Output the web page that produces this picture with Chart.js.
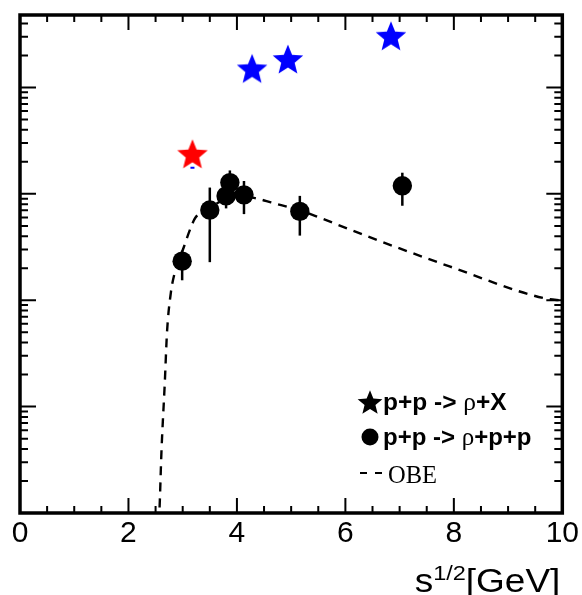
<!DOCTYPE html>
<html lang="en">
<head>
  <meta charset="UTF-8">
  <title>rho production in p+p collisions</title>
  <script src="https://cdn.jsdelivr.net/npm/chart.js"></script>
  <style>
    body { margin: 0; background: #fff; }
  </style>
</head>
<body>
<canvas id="rhoChart" width="582" height="595"></canvas>

<script>
  // p+p -> rho+p+p (exclusive), with error bar ends
  const exclX  = [2.99, 3.50, 3.80, 3.87, 4.13, 5.16, 7.05];
  const exclY  = [0.233, 0.704, 0.957, 1.276, 0.979, 0.684, 1.19];
  const exclLo = [0.154, 0.228, 0.73, 1.0, 0.645, 0.405, 0.773];
  const exclHi = [0.293, 1.146, 1.2, 1.66, 1.32, 0.957, 1.58];

  // p+p -> rho+X (inclusive)
  const inclX = [3.18, 4.28, 4.94, 6.84];
  const inclY = [2.38, 15.1, 18.5, 30.6];
  const inclColors = ['#ff0000', '#0000ff', '#0000ff', '#0000ff'];

  // small blue point under the red star
  const markX = [3.18];
  const markY = [1.76];

  // OBE model
  const obeX = [2.555, 2.57, 2.61, 2.67, 2.71, 2.78, 2.85, 3.02, 3.14, 3.23, 3.5, 3.8, 4.05, 4.39, 4.63, 5.16, 5.54, 6.58, 7.92, 9.69, 10];
  const obeY = [0.0008, 0.00102, 0.00396, 0.0168, 0.0492, 0.116, 0.179, 0.315, 0.468, 0.593, 0.74, 0.9, 0.96, 0.898, 0.83, 0.70, 0.593, 0.369, 0.208, 0.1037, 0.0996];

  const xTicks = [0, 2, 4, 6, 8, 10];
  const yMin = 0.001;
  const yMax = 48;

  const SANS = '"Liberation Sans", Arial, Helvetica, sans-serif';
  const SERIF = '"Liberation Serif", "Times New Roman", serif';

  Chart.defaults.font.family = SANS;
  Chart.defaults.color = '#000';

  // filled five-pointed star, bbox centred in the canvas
  function starImage(color, R) {
    const c = document.createElement('canvas');
    const s = Math.ceil(R * 2 + 4);
    c.width = s;
    c.height = s;
    const g = c.getContext('2d');
    const cx = s / 2, cy = s / 2 + R * 0.095;
    const r = R * 0.44;
    g.beginPath();
    for (let i = 0; i < 10; i++) {
      const a = -Math.PI / 2 + i * Math.PI / 5;
      const rad = i % 2 ? r : R;
      g.lineTo(cx + rad * Math.cos(a), cy + rad * Math.sin(a));
    }
    g.closePath();
    g.fillStyle = color;
    g.fill();
    return c;
  }

  const pts = (xs, ys) => xs.map((v, i) => ({ x: v, y: ys[i] }));

  const errorBars = {
    id: 'errorBars',
    beforeDatasetsDraw(chart) {
      const { ctx, scales: { x, y } } = chart;
      ctx.save();
      ctx.strokeStyle = '#000';
      ctx.lineWidth = 2.5;
      exclX.forEach((v, i) => {
        const px = x.getPixelForValue(v);
        ctx.beginPath();
        ctx.moveTo(px, y.getPixelForValue(exclLo[i]));
        ctx.lineTo(px, y.getPixelForValue(exclHi[i]));
        ctx.stroke();
      });
      ctx.restore();
    }
  };

  // box frame with inward ticks on all four sides
  const frame = {
    id: 'frame',
    afterDatasetsDraw(chart) {
      const { ctx, chartArea: a, scales: { x, y } } = chart;
      ctx.save();
      ctx.strokeStyle = '#000';
      ctx.lineWidth = 2;
      ctx.beginPath();
      for (let v = 0; v <= 10; v += 0.5) {
        const px = x.getPixelForValue(v);
        const len = v % 2 === 0 ? 15 : 7;
        ctx.moveTo(px, a.bottom);
        ctx.lineTo(px, a.bottom - len);
        ctx.moveTo(px, a.top);
        ctx.lineTo(px, a.top + len);
      }
      for (let d = -3; d <= 1; d++) {
        for (let m = 1; m <= 9; m++) {
          const v = m * Math.pow(10, d);
          if (v < yMin || v > yMax) continue;
          const py = y.getPixelForValue(v);
          const len = m === 1 ? 16 : 8;
          ctx.moveTo(a.left, py);
          ctx.lineTo(a.left + len, py);
          ctx.moveTo(a.right, py);
          ctx.lineTo(a.right - len, py);
        }
      }
      ctx.stroke();
      ctx.lineWidth = 3.5;
      ctx.strokeRect(a.left, a.top, a.right - a.left, a.bottom - a.top);
      ctx.restore();
    }
  };

  function textRun(ctx, parts, x, y, sx) {
    let cur = x;
    parts.forEach(([txt, font, dy]) => {
      ctx.font = font;
      ctx.save();
      ctx.translate(cur, y + (dy || 0));
      ctx.scale(sx, 1);
      ctx.fillText(txt, 0, 0);
      ctx.restore();
      cur += ctx.measureText(txt).width * sx;
    });
    return cur - x;
  }

  function runWidth(ctx, parts, sx) {
    return parts.reduce((w, [txt, font]) => {
      ctx.font = font;
      return w + ctx.measureText(txt).width * sx;
    }, 0);
  }

  const legendStar = starImage('#000', 13);

  const annotations = {
    id: 'annotations',
    afterDraw(chart) {
      const { ctx, chartArea: a } = chart;
      ctx.save();
      ctx.fillStyle = '#000';
      ctx.textBaseline = 'alphabetic';
      ctx.textAlign = 'left';

      // axis title s^{1/2}[GeV]
      const title = [
        ['s', '33px ' + SANS, 0],
        ['1/2', '21px ' + SANS, -12],
        ['[GeV]', '33px ' + SANS, 0]
      ];
      const tw = runWidth(ctx, title, 1.12);
      textRun(ctx, title, a.right - 2 - tw, 592, 1.12);

      // legend
      const lx = a.left + 350;
      const ty = a.top + 387;
      ctx.drawImage(legendStar, lx - legendStar.width / 2, ty - legendStar.height / 2);
      const bold = 'bold 24px ' + SANS;
      const rho = '25px ' + SERIF;
      textRun(ctx, [['p+p -> ', bold], ['\u03c1', rho], ['+X', bold]], lx + 13, ty + 8, 1.02);

      ctx.beginPath();
      ctx.arc(lx, ty + 35, 8.5, 0, Math.PI * 2);
      ctx.fill();
      textRun(ctx, [['p+p -> ', bold], ['\u03c1', rho], ['+p+p', bold]], lx + 13, ty + 43, 1.0);

      ctx.strokeStyle = '#000';
      ctx.lineWidth = 2.2;
      ctx.setLineDash([7, 8]);
      ctx.beginPath();
      ctx.moveTo(lx - 10, ty + 71);
      ctx.lineTo(lx + 12, ty + 71);
      ctx.stroke();
      ctx.setLineDash([]);
      textRun(ctx, [['OBE', '25px ' + SERIF]], lx + 18, ty + 81, 0.98);
      ctx.restore();
    }
  };

  new Chart(document.getElementById('rhoChart'), {
    type: 'scatter',
    data: {
      datasets: [
        {
          label: 'p+p -> rho+p+p',
          data: pts(exclX, exclY),
          pointRadius: 9.7,
          pointBackgroundColor: '#000',
          pointBorderWidth: 0,
          order: 0
        },
        {
          label: 'p+p -> rho+X',
          data: pts(inclX, inclY),
          pointRadius: 14,
          pointStyle: inclColors.map(c => starImage(c, 16)),
          order: 1
        },
        {
          label: 'mark',
          data: pts(markX, markY),
          pointStyle: 'line',
          pointRadius: 2,
          pointBorderColor: '#0000ff',
          pointBorderWidth: 2,
          order: 1
        },
        {
          label: 'OBE',
          data: pts(obeX, obeY),
          showLine: true,
          borderColor: '#000',
          borderWidth: 2.4,
          borderDash: [9, 7],
          pointRadius: 0,
          cubicInterpolationMode: 'monotone',
          order: 2
        }
      ]
    },
    options: {
      responsive: false,
      animation: false,
      layout: { padding: { left: 20, right: 15, top: 13, bottom: 40 } },
      plugins: {
        legend: { display: false },
        tooltip: { enabled: false }
      },
      scales: {
        x: {
          type: 'linear',
          min: 0,
          max: 10,
          afterBuildTicks: s => { s.ticks = xTicks.map(v => ({ value: v })); },
          grid: { display: false, drawTicks: false },
          border: { display: false },
          ticks: {
            padding: 3,
            maxRotation: 0,
            font: { size: 30 },
            color: '#000'
          }
        },
        y: {
          type: 'logarithmic',
          min: yMin,
          max: yMax,
          display: false
        }
      }
    },
    plugins: [errorBars, frame, annotations]
  });
</script>
</body>
</html>
